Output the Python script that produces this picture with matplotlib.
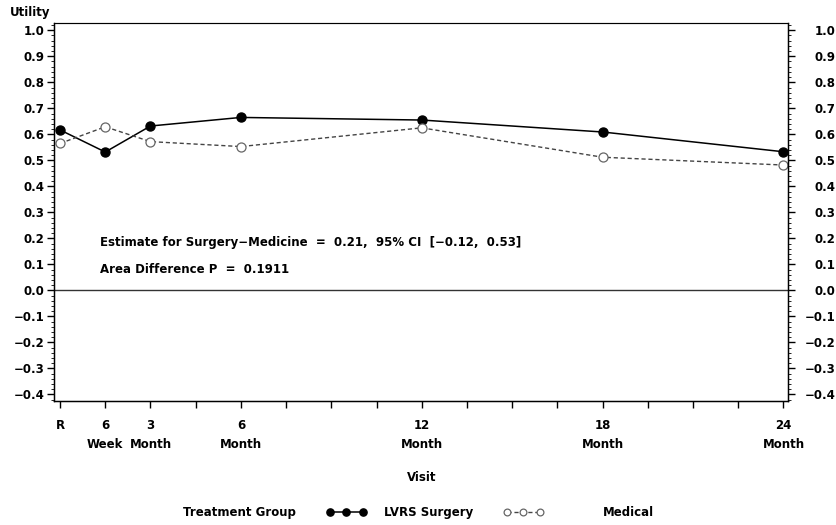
import numpy as np
import matplotlib
matplotlib.use('Agg')
import matplotlib.pyplot as plt
from matplotlib.ticker import AutoMinorLocator

plt.rcParams['font.family'] = ['DejaVu Sans']
plt.rcParams['axes.unicode_minus'] = True

# Dados
visitas = [0, 1.5, 3, 6, 12, 18, 24]
rotulos_x = ['R', '6\nWeek', '3\nMonth', '6\nMonth', '12\nMonth', '18\nMonth', '24\nMonth']
cirurgia = [0.617, 0.532, 0.632, 0.665, 0.655, 0.609, 0.533]
medico = [0.565, 0.629, 0.572, 0.553, 0.625, 0.512, 0.482]
ticks_y = [-0.4, -0.3, -0.2, -0.1, 0.0, 0.1, 0.2, 0.3, 0.4, 0.5, 0.6, 0.7, 0.8, 0.9, 1.0]


def fmt(v):
    s = '%.1f' % abs(v)
    return ('\u2212' + s) if v < -1e-9 else s


fig = plt.figure(figsize=(8.36, 5.25), dpi=100)
ax = fig.add_axes([0.0646, 0.2362, 0.878, 0.72])

l1, = ax.plot(visitas, cirurgia, color='black', lw=1.1, marker='o', ms=6.5,
              mfc='black', mec='black', label='LVRS Surgery')
l2, = ax.plot(visitas, medico, color='#444444', lw=1.0, ls=(0, (3, 2)), marker='o', ms=6.5,
              mfc='white', mec='#666666', mew=0.9, label='Medical')
ax.axhline(0, color='#333333', lw=1.0)

posicoes_x = np.arange(0, 24.1, 1.5)
ax.set_xlim(-0.2, 24.15)
ax.set_ylim(-0.425, 1.028)
ax.set_xticks(posicoes_x)
ax.set_xticklabels([rotulos_x[visitas.index(t)] if t in visitas else '' for t in posicoes_x],
                   fontsize=8.5, fontweight='bold', linespacing=1.55)
ax.set_yticks(ticks_y)
ax.set_yticklabels([fmt(v) for v in ticks_y], fontsize=8.5, fontweight='bold')
ax.yaxis.set_minor_locator(AutoMinorLocator(5))
ax.tick_params(axis='x', direction='out', length=5, width=1, pad=8)
ax.tick_params(axis='y', which='major', direction='out', length=5, width=1, pad=2)
ax.tick_params(axis='y', which='minor', direction='out', length=2, width=0.6)
for s in ['left', 'right', 'bottom']:
    ax.spines[s].set_linewidth(1.0)
ax.spines['top'].set_color('#555555')
ax.spines['top'].set_linewidth(0.8)

# eixo da direita
ax2 = ax.twinx()
ax2.set_ylim(ax.get_ylim())
ax2.set_yticks(ticks_y)
ax2.set_yticklabels([fmt(v) for v in ticks_y], fontsize=8.5, fontweight='bold', ha='right')
ax2.yaxis.set_minor_locator(AutoMinorLocator(5))
ax2.tick_params(axis='y', which='major', direction='out', length=5, width=1, pad=29)
ax2.tick_params(axis='y', which='minor', direction='out', length=2, width=0.6)

ax.text(1.32, 0.183, 'Estimate for Surgery\u2212Medicine  =  0.21,  95% CI  [\u22120.12,  0.53]',
        fontsize=8.5, fontweight='bold', va='center')
ax.text(1.32, 0.080, 'Area Difference P  =  0.1911', fontsize=8.5, fontweight='bold', va='center')

fig.text(0.012, 0.977, 'Utility', fontsize=8.5, fontweight='bold', va='center')
fig.text(0.504, 0.09, 'Visit', fontsize=8.5, fontweight='bold', ha='center', va='center')

fig.text(183 / 836, 0.023, 'Treatment Group', fontsize=8.5, fontweight='bold', va='center')
leg1 = fig.legend(handles=[l1], loc='center left', bbox_to_anchor=(326 / 836, 0.023),
                  frameon=False, numpoints=3, handlelength=3.4, handletextpad=1.5,
                  borderpad=0, borderaxespad=0, markerscale=0.8,
                  prop={'size': 8.5, 'weight': 'bold'})
leg2 = fig.legend(handles=[l2], loc='center left', bbox_to_anchor=(503 / 836, 0.023),
                  frameon=False, numpoints=3, handlelength=3.4, handletextpad=5.1,
                  borderpad=0, borderaxespad=0, markerscale=0.75,
                  prop={'size': 8.5, 'weight': 'bold'})

fig.savefig('out.png', dpi=100)
